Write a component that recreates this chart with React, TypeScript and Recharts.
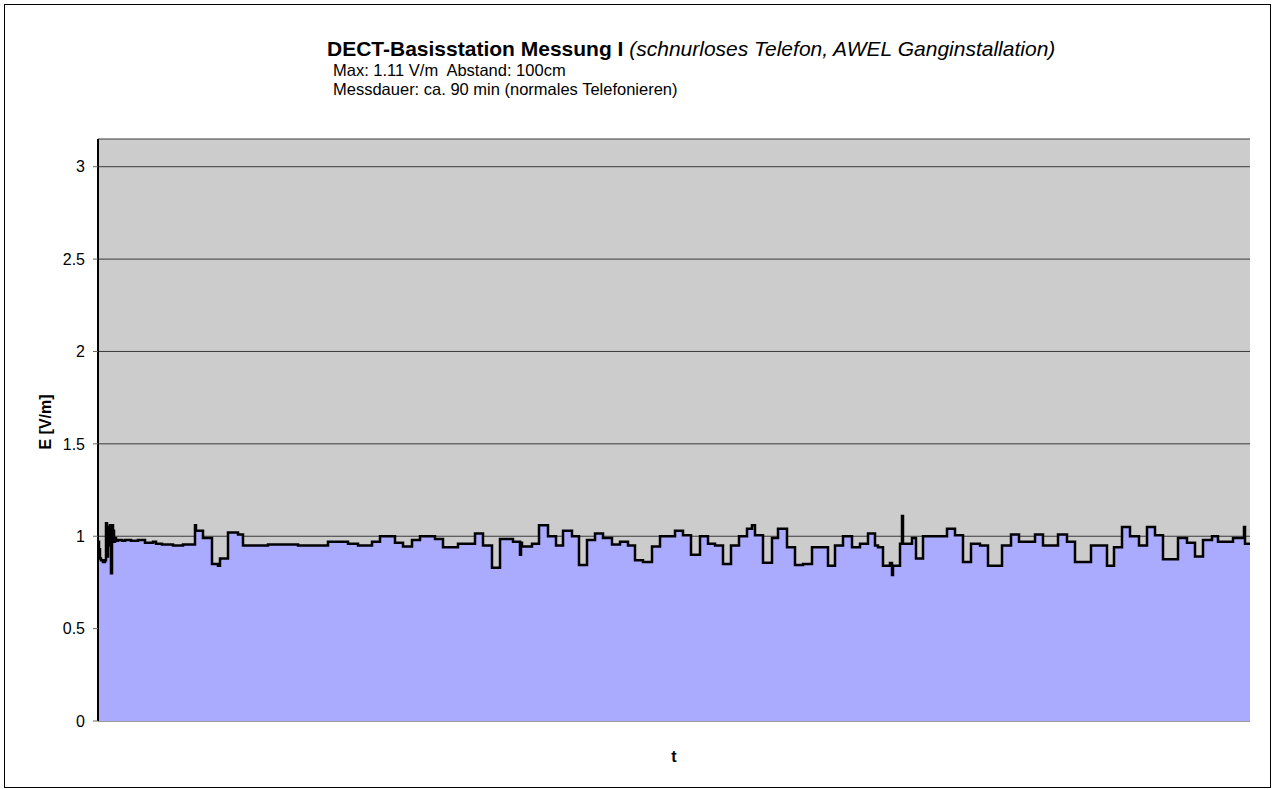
import React from 'react';
import { AreaChart, Area, XAxis, YAxis, CartesianGrid } from 'recharts';

// sample number (one reading per sample, ~90 min total)
const SAMPLES = [
  0, 1, 2, 3, 5, 7, 8, 9, 10, 11, 12, 13, 14, 15, 16, 17, 18, 20, 24, 27, 33, 40, 47, 55, 58, 64, 75, 85,
  97, 98, 105, 114, 120, 122, 130, 140, 145, 170, 200, 230, 250, 260, 274, 282, 297, 305, 314, 322, 337,
  345, 360, 377, 385, 394, 402, 415, 422, 423, 424, 434, 441, 450, 458, 465, 474, 481, 489, 497, 505, 514,
  522, 530, 537, 545, 554, 562, 577, 585, 593, 602, 610, 617, 625, 633, 641, 649, 654, 657, 665, 674, 680,
  689, 697, 705, 714, 730, 737, 745, 754, 762, 770, 777, 780, 785, 792, 794, 795, 802, 804, 805, 814, 818,
  825, 849, 857, 865, 873, 882, 890, 904, 913, 921, 937, 945, 960, 969, 977, 993, 1009, 1016, 1024, 1032,
  1041, 1049, 1057, 1065, 1080, 1089, 1097, 1105, 1114, 1120, 1135, 1146, 1147, 1152,
];

// field strength E [V/m]
const FIELD = [
  0.97, 0.93, 0.88, 0.87, 0.86, 0.87, 1.07, 0.89, 1.05, 0.95, 1.06, 0.8, 1.06, 1.03, 0.97, 0.99, 0.975, 0.98,
  0.975, 0.98, 0.975, 0.98, 0.965, 0.97, 0.96, 0.955, 0.95, 0.955,
  1.06, 1.03, 0.99, 0.85, 0.84, 0.88, 1.02, 1.01, 0.95, 0.955, 0.95, 0.97, 0.96, 0.95, 0.97, 1.0, 0.965, 0.945, 0.98, 1.0, 0.985,
  0.94, 0.96, 1.015, 0.95, 0.83, 0.985, 0.97, 0.9, 0.965, 0.945, 0.96, 1.06, 1.0, 0.95, 1.03, 1.0, 0.845, 0.98, 1.015, 0.99, 0.955,
  0.97, 0.95, 0.87, 0.86, 0.945, 1.0, 1.03, 1.005, 0.9, 1.0, 0.96, 0.95, 0.85, 0.95, 1.0, 1.04, 1.06, 1.005, 0.857, 0.99, 1.04,
  0.94, 0.845, 0.85, 0.94, 0.84, 0.95, 1.0, 0.94, 0.96, 1.015, 0.95, 0.94, 0.84, 0.855, 0.79, 0.84, 0.96, 1.11, 0.96, 0.99, 0.88,
  1.0, 1.04, 1.005, 0.86, 0.96, 0.95, 0.84, 0.95, 1.01, 0.97, 1.01, 0.95, 1.01, 0.97, 0.86, 0.95, 0.84, 0.94, 1.05, 1.0,
  0.95, 1.05, 1.005, 0.875, 0.99, 0.965, 0.89, 0.98, 1.0, 0.97, 0.99, 1.05, 0.96, 0.96,
];

const Y_TICKS = [0, 0.5, 1, 1.5, 2, 2.5, 3];
const Y_MAX = 3.15;
const TITLE_BOLD = 'DECT-Basisstation Messung I ';
const TITLE_ITALIC = '(schnurloses Telefon, AWEL Ganginstallation)';
const INFO_LINES = ['Max: 1.11 V/m  Abstand: 100cm', 'Messdauer: ca. 90 min (normales Telefonieren)'];
const Y_LABEL = 'E [V/m]';
const X_LABEL = 't';

const data = SAMPLES.map((s, i) => ({ s, v: FIELD[i] }));

const FONT = '"Liberation Sans", Arial, sans-serif';

export default function App() {
  return (
    <div style={{ position: 'absolute', left: 0, top: 0, width: 1272, height: 789, background: '#fff', fontFamily: FONT }}>
      <AreaChart
        width={1272}
        height={789}
        data={data}
        margin={{ top: 139, right: 22, bottom: 68, left: 38 }}
        style={{ position: 'absolute', left: 0, top: 0 }}
      >
        <CartesianGrid vertical={false} fill="#CCCCCC" fillOpacity={1} stroke="#3a3a3a" strokeWidth={1} />
        <XAxis
          dataKey="s"
          type="number"
          domain={[0, 1152]}
          allowDataOverflow
          tick={false}
          tickLine={false}
          height={0}
          axisLine={{ stroke: '#000', strokeWidth: 2 }}
        />
        <XAxis
          xAxisId="top"
          orientation="top"
          type="number"
          domain={[0, 1152]}
          tick={false}
          tickLine={false}
          height={0}
          axisLine={{ stroke: '#000', strokeWidth: 1.5 }}
        />
        <YAxis
          type="number"
          domain={[0, Y_MAX]}
          ticks={Y_TICKS}
          interval={0}
          width={60}
          tickSize={5}
          tickMargin={8}
          tickLine={{ stroke: '#666' }}
          axisLine={{ stroke: '#000', strokeWidth: 2 }}
          tick={{ fill: '#000', fontSize: 16, fontFamily: FONT }}
        />
        <YAxis
          yAxisId="right"
          orientation="right"
          type="number"
          domain={[0, Y_MAX]}
          tick={false}
          tickLine={false}
          width={0}
          axisLine={{ stroke: '#000', strokeWidth: 2 }}
        />
        <Area
          dataKey="v"
          type="stepAfter"
          stroke="#000"
          strokeWidth={2.5}
          fill="#AAAAFF"
          fillOpacity={1}
          dot={false}
          activeDot={false}
          isAnimationActive={false}
        />
      </AreaChart>
      <svg width={1272} height={789} style={{ position: 'absolute', left: 0, top: 0, pointerEvents: 'none' }}>
        <rect x={4.5} y={4.5} width={1266} height={783} fill="none" stroke="#000" strokeWidth={1} />
        <text x={327} y={56} fontSize={21} fontFamily={FONT} fill="#000">
          <tspan fontWeight="bold">{TITLE_BOLD}</tspan>
          <tspan fontStyle="italic">{TITLE_ITALIC}</tspan>
        </text>
        <text x={333} y={76} fontSize={16.5} fontFamily={FONT} fill="#000" style={{ whiteSpace: 'pre' }}>
          {INFO_LINES[0]}
        </text>
        <text x={333} y={95} fontSize={16.5} fontFamily={FONT} fill="#000" style={{ whiteSpace: 'pre' }}>
          {INFO_LINES[1]}
        </text>
        <text
          x={51}
          y={422}
          fontSize={16}
          fontWeight="bold"
          fontFamily={FONT}
          textAnchor="middle"
          transform="rotate(-90 51 422)"
          fill="#000"
        >
          {Y_LABEL}
        </text>
        <text x={674} y={762} fontSize={16} fontWeight="bold" fontFamily={FONT} textAnchor="middle" fill="#000">
          {X_LABEL}
        </text>
      </svg>
    </div>
  );
}
